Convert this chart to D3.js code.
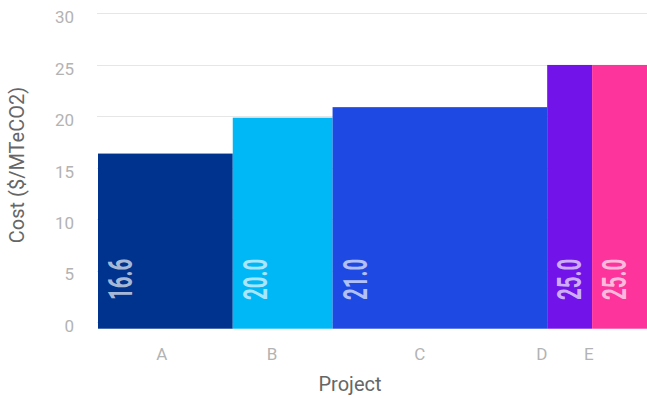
<!DOCTYPE html>
<html>
<head>
<meta charset="utf-8">
<script src="https://cdn.jsdelivr.net/npm/d3@7"></script>
<style>
  html, body { margin: 0; padding: 0; background: #ffffff; }
  svg { display: block; }
</style>
</head>
<body>
<svg id="chart" width="647" height="399"></svg>
<script>
// Projects along the abatement curve
const projects = ["A", "B", "C", "D", "E"];
// Abatement volume of each project (bar width)
const volumes = [2.7, 2.0, 4.3, 0.9, 1.1];
// Cost per tonne (bar height and label)
const costs = [16.6, 20.0, 21.0, 25.0, 25.0];
const colors = ["#00338D", "#00B8F5", "#1E49E2", "#7213EA", "#FD349C"];
const yTicks = [0, 5, 10, 15, 20, 25, 30];

const svg = d3.select("#chart");
const W = 647, H = 399;
const left = 98;

// cumulative start of each project along the x axis
const starts = [];
volumes.reduce((acc, v, i) => { starts[i] = acc; return acc + v; }, 0);
const total = d3.sum(volumes);

// bars scale and the (slightly narrower) axis-label scale
const xBar = d3.scaleLinear().domain([0, total]).range([left, W]);
const xAxisScale = d3.scaleLinear().domain([0, total]).range([left, left + (W - left) * 0.94]);

const yAxisScale = d3.scaleLinear().domain([0, 30]).range([322, 13.3]);
const yBar = d3.scaleLinear().domain([0, 30]).range([328.7, 12.2]);

// gridlines
svg.append("g")
  .selectAll("line")
  .data(yTicks)
  .join("line")
  .attr("x1", left - 1)
  .attr("x2", W)
  .attr("y1", d => Math.round(yAxisScale(d)) + 0.5)
  .attr("y2", d => Math.round(yAxisScale(d)) + 0.5)
  .attr("stroke", "#e6e6e6")
  .attr("stroke-width", 1);

// y axis tick labels
const yAxis = d3.axisLeft(yAxisScale).tickValues(yTicks).tickSize(0).tickPadding(0);
const gy = svg.append("g").attr("transform", "translate(74,0)").call(yAxis);
gy.select(".domain").remove();
gy.selectAll("text")
  .attr("fill", "#b3b3b3")
  .attr("font-family", "Roboto, sans-serif")
  .attr("font-size", 17)
  .attr("dy", "0.55em")
  .attr("x", 0);

// bars
svg.append("g")
  .selectAll("rect")
  .data(projects)
  .join("rect")
  .attr("x", (d, i) => xBar(starts[i]))
  .attr("width", (d, i) => xBar(starts[i] + volumes[i]) - xBar(starts[i]))
  .attr("y", (d, i) => yBar(costs[i]))
  .attr("height", (d, i) => yBar(0) - yBar(costs[i]))
  .attr("fill", (d, i) => colors[i]);

// value labels inside the bars
const fmt = d3.format(".1f");
svg.append("g")
  .selectAll("text")
  .data(projects)
  .join("text")
  .attr("transform", (d, i) => `translate(${xBar(starts[i]) + 34},300) rotate(-90) scale(0.62,1)`)
  .attr("font-family", "Roboto, sans-serif")
  .attr("font-weight", 700)
  .attr("font-size", 33)
  .attr("fill", "#ffffff")
  .attr("fill-opacity", 0.68)
  .attr("text-anchor", "start")
  .text((d, i) => fmt(costs[i]));

// x axis category labels
const xAxis = d3.axisBottom(xAxisScale)
  .tickValues(projects.map((d, i) => starts[i] + volumes[i] / 2))
  .tickFormat((d, i) => projects[i])
  .tickSize(0)
  .tickPadding(0);
const gx = svg.append("g").attr("transform", "translate(0,359.5)").call(xAxis);
gx.select(".domain").remove();
gx.selectAll("text")
  .attr("y", 0)
  .attr("dy", 0)
  .attr("fill", "#b3b3b3")
  .attr("font-family", "Roboto, sans-serif")
  .attr("font-size", 17);

// axis titles
svg.append("text")
  .attr("x", 350)
  .attr("y", 391)
  .attr("text-anchor", "middle")
  .attr("font-family", "Roboto, sans-serif")
  .attr("font-size", 20)
  .attr("fill", "#666666")
  .text("Project");

svg.append("text")
  .attr("transform", "translate(24,165) rotate(-90)")
  .attr("text-anchor", "middle")
  .attr("font-family", "Roboto, sans-serif")
  .attr("font-size", 20)
  .attr("fill", "#666666")
  .text("Cost ($/MTeCO2)");
</script>
</body>
</html>
